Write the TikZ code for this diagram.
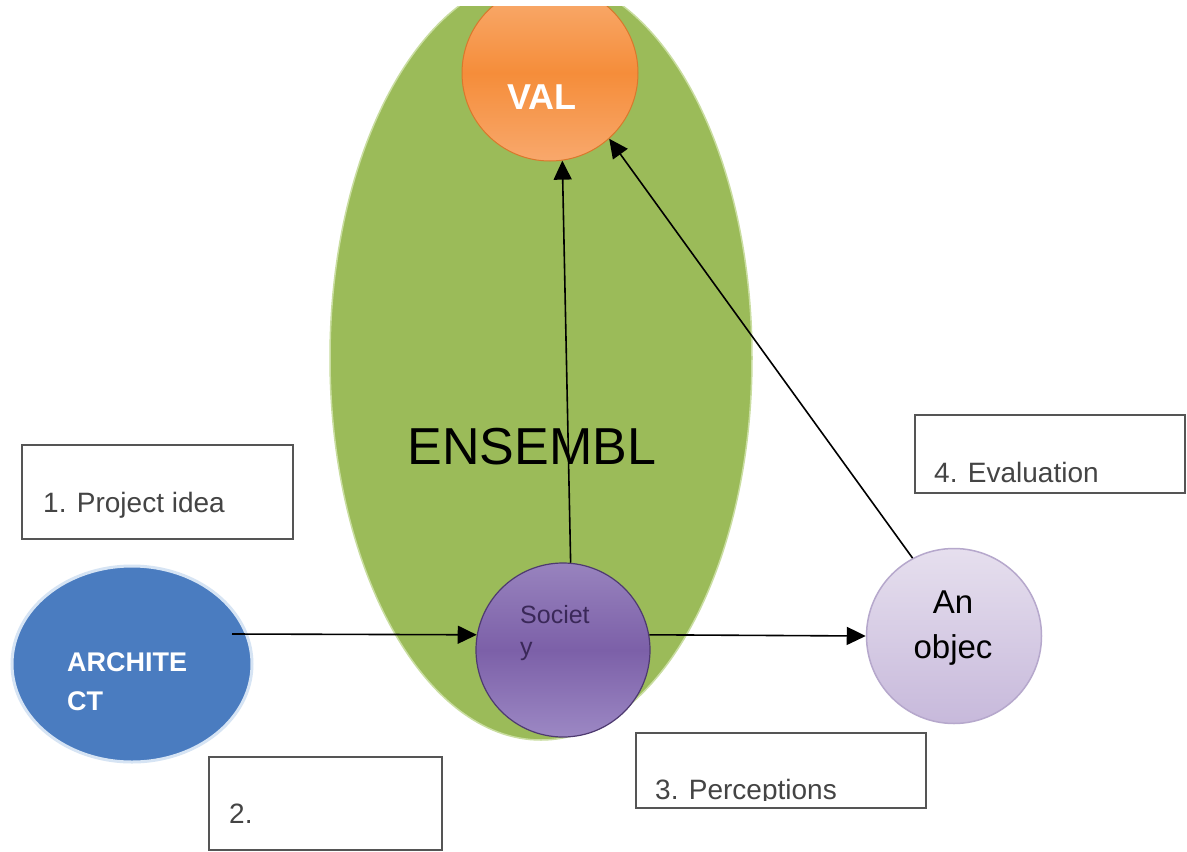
\documentclass[tikz,border=0pt]{standalone}
\usepackage{fontspec}
\setmainfont{Liberation Sans}
\usetikzlibrary{shapes.geometric,arrows.meta,calc}
\definecolor{ensgreen}{HTML}{9BBB59}
\definecolor{ensline}{HTML}{C9DDA0}
\definecolor{orgtop}{HTML}{F9AD72}
\definecolor{orgmid}{HTML}{F58D3A}
\definecolor{orgbot}{HTML}{F8A86C}
\definecolor{orgline}{HTML}{D9782C}
\definecolor{archblue}{HTML}{4A7CC0}
\definecolor{archhalo}{HTML}{D6E4F4}
\definecolor{soctop}{HTML}{9883BE}
\definecolor{socmid}{HTML}{7C60A8}
\definecolor{socbot}{HTML}{9C88C4}
\definecolor{socline}{HTML}{4E3A70}
\definecolor{soctext}{HTML}{3A2858}
\definecolor{objtop}{HTML}{E6DFEE}
\definecolor{objbot}{HTML}{C7B9DB}
\definecolor{objline}{HTML}{B6A8CC}
\definecolor{boxline}{HTML}{555555}
\definecolor{boxtext}{HTML}{444444}
\tikzset{
  labelbox/.style={draw=boxline, line width=1.6pt, fill=white, rectangle, inner sep=0pt},
  boxlabel/.style={anchor=base west, inner sep=0pt, text=boxtext, font=\fontsize{28}{32}\selectfont},
  conn/.style={draw=black, line width=1.6pt, -{Triangle[length=19pt,width=18pt]}},
}
\begin{document}
\begin{tikzpicture}[x=1pt,y=-1pt]
\useasboundingbox (0,0) rectangle (1187,852);
\fill[white] (0,0) rectangle (1187,852);
\begin{scope}
\clip (0,6) rectangle (1187,852);
\node[ellipse, fill=ensgreen, draw=ensline, line width=1.5pt, minimum width=422pt, minimum height=764pt, inner sep=0pt] (ens) at (541,358) {};
\node[circle, top color=orgtop, bottom color=orgbot, middle color=orgmid, draw=orgline, line width=1pt, minimum size=176pt, inner sep=0pt] (val) at (550,73) {};
\end{scope}
\node[inner sep=0pt, text=white, font=\bfseries\fontsize{36}{40}\selectfont] (valt) at (542,97) {VAL};
\node[inner sep=0pt, font=\fontsize{52}{60}\selectfont] (enst) at (532,447) {ENSEMBL};

% boxes
\node[labelbox, minimum width=271pt, minimum height=94pt] (b1) at (157.5,492) {};
\node[labelbox, minimum width=233pt, minimum height=93pt] (b2) at (325.5,803.5) {};
\node[labelbox, minimum width=290pt, minimum height=75pt] (b3) at (781,770.5) {};
\node[labelbox, minimum width=270pt, minimum height=78pt] (b4) at (1050,454) {};
\node[boxlabel] (t1) at (43,512) {1. Project idea};
\node[boxlabel] (t2) at (229,823) {2.};
\begin{scope}
\clip (636,733) rectangle (926,800);
\node[boxlabel] (t3) at (655,799) {3. Perceptions};
\end{scope}
\node[boxlabel] (t4) at (934,482) {4. Evaluation};

% circles
\node[ellipse, fill=archblue, draw=archhalo, line width=3pt, minimum width=240pt, minimum height=196pt, inner sep=0pt] (arch) at (132,664) {};
\node[anchor=base west, inner sep=0pt, text=white, font=\bfseries\fontsize{27}{39}\selectfont, align=left] (archt) at (67,710) {ARCHITE\\CT};
\node[circle, top color=soctop, bottom color=socbot, middle color=socmid, draw=socline, line width=1.2pt, minimum size=174pt, inner sep=0pt] (soc) at (563,650) {};
\node[anchor=base west, inner sep=0pt, text=soctext, font=\fontsize{25}{32}\selectfont, align=left] (soct) at (520,655) {Societ\\y};
\node[circle, top color=objtop, bottom color=objbot, draw=objline, line width=1.5pt, minimum size=175pt, inner sep=0pt] (obj) at (954,636) {};
\node[anchor=base, inner sep=0pt, text=black, font=\fontsize{33}{45}\selectfont, align=center] (objt) at (953,658) {An\\objec};

% connectors
\draw[conn] ($(arch.center)+(100,-30)$) -- (soc.170);
\draw[conn] (soc.10) -- (obj.west);
\draw[conn] (soc.85) -- (val.-82);
\draw[conn] (obj.118) -- (val.-48);
\end{tikzpicture}
\end{document}
